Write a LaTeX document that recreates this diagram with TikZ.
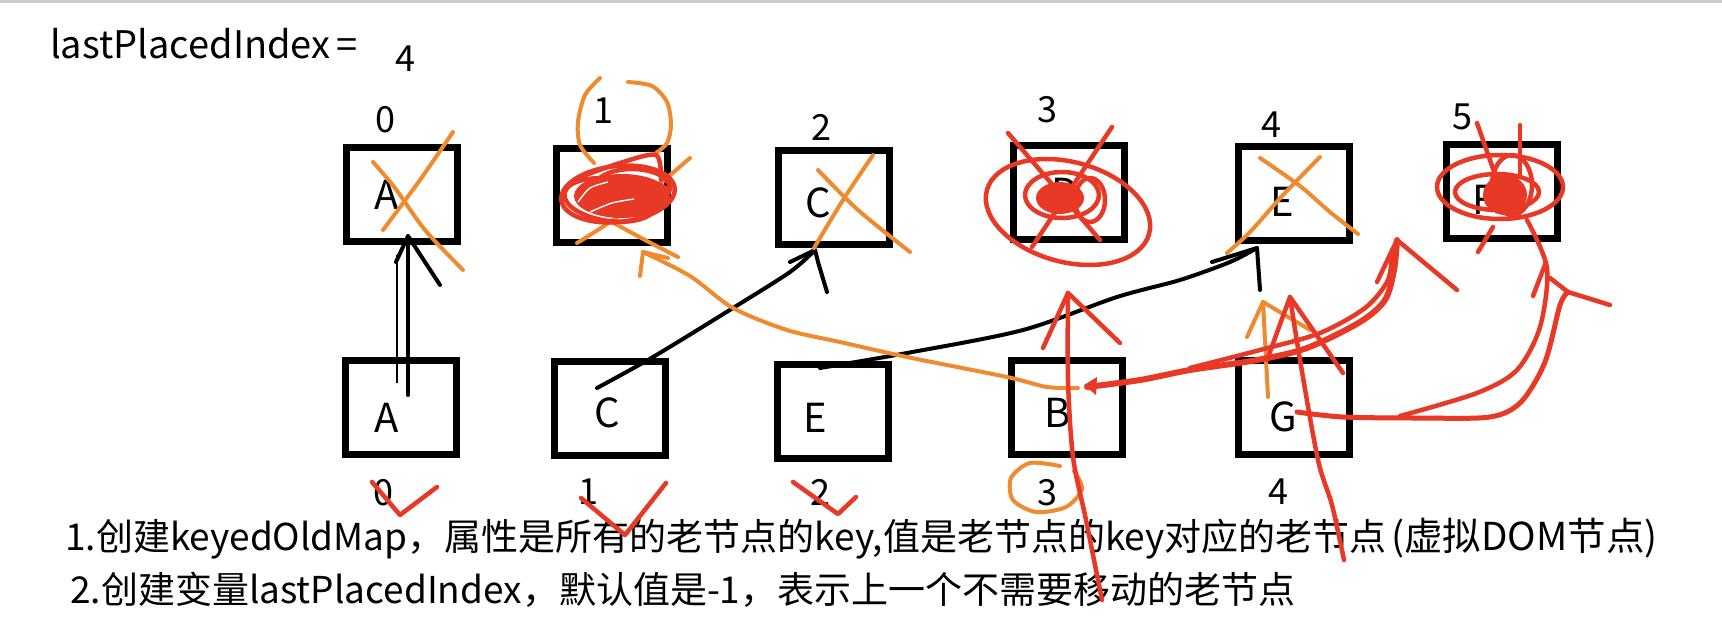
\documentclass[tikz,border=0pt]{standalone}
\usepackage{fontspec}
\setmainfont{Noto Sans CJK SC}
\usetikzlibrary{positioning, arrows.meta}

\definecolor{penorange}{RGB}{240,138,46}
\definecolor{penred}{RGB}{232,56,38}
\definecolor{barshade}{RGB}{205,205,205}

\begin{document}
\begin{tikzpicture}[
    x=1pt, y=-1pt,
    >=Latex,
    every node/.style={align=center, inner sep=0pt},
    oldbox/.style={draw=black, line width=7pt, minimum width=111pt, minimum height=94pt},
    keytext/.style={font=\fontsize{40}{44}\selectfont},
    idxtext/.style={font=\fontsize{36}{40}\selectfont},
    steptext/.style={font=\fontsize{37}{41}\selectfont},
    blackpen/.style={draw=black, line width=4pt, line cap=round, line join=round},
    orangepen/.style={draw=penorange, line width=4pt, line cap=round, line join=round},
    redpen/.style={draw=penred, line width=4.5pt, line cap=round, line join=round}
]

% =================================================
% FRAME
% =================================================

\fill[white] (0,0) rectangle (1722,622);
\useasboundingbox (0,0) rectangle (1722,622);
\fill[barshade] (0,0) rectangle (1722,3);

% Title
\node[
    anchor=base west,
    font=\fontsize{38}{42}\selectfont
] (lpi) at (50,58)
{lastPlacedIndex\hspace{6pt}=};

\node[
    idxtext,
    anchor=base
] (lpival) at (405,71)
{4};

% =================================================
% OLD NODES (top row)
% =================================================

\foreach \n/\x/\y in {
    A/402/194,
    B/612/195,
    C/834/197,
    D/1069/192,
    E/1294/193,
    F/1502/191
}{
    \node[oldbox] (old\n) at (\x,\y) {};
}

\foreach \n/\x/\y in {
    A/387/195,
    B/598/193,
    C/818/203,
    D/1065/193,
    E/1282/202,
    F/1484/200
}{
    \node[keytext] (oldkey\n) at (\x,\y) {\n};
}

\foreach \i/\x/\y in {
    0/385/120,
    1/603/111,
    2/821/127,
    3/1047/110,
    4/1271/125,
    5/1462/117
}{
    \node[idxtext] (oldidx\i) at (\x,\y) {\i};
}

% =================================================
% NEW NODES (bottom row)
% =================================================

\foreach \n/\x/\y in {
    A/401/407,
    C/610/408,
    E/833/411,
    B/1067/407,
    G/1294/407
}{
    \node[oldbox] (new\n) at (\x,\y) {};
}

\foreach \n/\x/\y in {
    A/387/418,
    C/607/413,
    E/815/418,
    B/1058/413,
    G/1283/417
}{
    \node[keytext] (newkey\n) at (\x,\y) {\n};
}

\foreach \i/\x/\y in {
    0/383/493,
    1/588/492,
    2/820/492,
    3/1047/493,
    4/1278/492
}{
    \node[idxtext] (newidx\i) at (\x,\y) {\i};
}

% Steps
\node[
    steptext,
    anchor=base west
] (step1) at (65,550)
{1.创建keyedOldMap，属性是所有的老节点的key,值是老节点的key对应的老节点};

\node[
    steptext,
    base right=4pt of step1,
    font=\fontsize{38.5}{42}\selectfont
] (step1note)
{(虚拟DOM节点)};

\node[
    steptext,
    anchor=base west
] (step2) at (70,603)
{2.创建变量lastPlacedIndex，默认值是-1，表示上一个不需要移动的老节点};

% =================================================
% BLACK PEN: reused nodes
% =================================================

\coordinate (tipA) at (408,236);
\draw[blackpen] (408,395) -- (tipA);
\draw[blackpen] (396,262) -- (tipA) -- (440,285);
\draw[black, line width=1.3pt] (397,383) -- (397,255);

\coordinate (tipC) at (815,250);
\draw[blackpen] plot[smooth] coordinates {(597,388) (653,357) (733,308) (790,272) (tipC)};
\draw[blackpen] (790,262) -- (tipC) -- (818,262) -- (827,292);

\coordinate (tipE) at (1257,248);
\draw[blackpen] plot[smooth] coordinates {(820,368) (907,353) (1023,330) (1117,297) (1180,280) (1230,262) (tipE)};
\draw[blackpen] (1212,262) -- (tipE) -- (1260,290);

% =================================================
% ORANGE PEN
% =================================================

% cross on A
\draw[orangepen] plot[smooth] coordinates {(453,132) (420,180) (383,230)};
\draw[orangepen] plot[smooth] coordinates {(373,162) (395,188) (425,230) (463,270)};

% loop round index 1
\draw[orangepen] plot[smooth] coordinates {(600,78) (585,95) (578,122) (580,145) (594,163)};
\draw[orangepen] plot[smooth] coordinates {(628,82) (652,86) (667,102) (671,125) (667,143) (656,153)};

% cross on B
\draw[orangepen] plot[smooth] coordinates {(690,158) (650,192) (610,222) (577,243)};
\draw[orangepen] plot[smooth] coordinates {(612,222) (645,240) (678,257)};

% B moves back
\coordinate (tipB) at (643,252);
\draw[orangepen] plot[smooth] coordinates {(1078,388) (1047,387) (1007,377) (907,357) (840,342) (787,330) (733,308) (690,276) (tipB)};
\draw[orangepen] (640,276) -- (tipB) -- (668,258);

% cross on C
\draw[orangepen] plot[smooth] coordinates {(818,170) (858,210) (910,252)};
\draw[orangepen] plot[smooth] coordinates {(873,155) (843,200) (814,248)};

% cross on E
\draw[orangepen] plot[smooth] coordinates {(1260,158) (1300,186) (1330,212) (1358,234)};
\draw[orangepen] plot[smooth] coordinates {(1320,157) (1283,195) (1250,232) (1227,253)};

% arrow at G
\coordinate (tipG) at (1263,302);
\draw[orangepen] (1268,397) -- (tipG);
\draw[orangepen] (1247,337) -- (tipG) -- (1310,330);

% ring round index 3
\draw[orangepen] plot[smooth] coordinates {(1060,466) (1030,463) (1011,478) (1013,500) (1036,512) (1066,507) (1082,489) (1074,471)};

% =================================================
% RED PEN
% =================================================

% scribble on B
\fill[penred] (622,196) ellipse [x radius=48, y radius=22];
\draw[redpen, rotate around={6:(618,194)}] (618,194) ellipse [x radius=57, y radius=28];
\draw[redpen, rotate around={-8:(610,200)}] (610,200) ellipse [x radius=46, y radius=21];
\draw[redpen] (632,188) ellipse [x radius=38, y radius=19];
\draw[redpen] plot[smooth] coordinates {(583,176) (620,163) (656,155) (661,180)};
\draw[white, line width=1.4pt] plot[smooth] coordinates {(578,202) (590,188) (608,182)};
\draw[white, line width=1.4pt] plot[smooth] coordinates {(590,212) (612,203) (634,199)};
\draw[redpen] plot[smooth] coordinates {(640,215) (660,205) (668,190) (650,182)};

% scribble on D
\draw[redpen] (1008,133) -- (1100,240);
\draw[redpen] (1112,127) -- (1032,247);
\draw[redpen, rotate around={-15:(1068,212)}] (1068,212) ellipse [x radius=84, y radius=50];
\draw[redpen] (1062,195) ellipse [x radius=37, y radius=23];
\draw[redpen] (1090,200) ellipse [x radius=15, y radius=22];
\fill[penred] (1060,198) ellipse [x radius=24, y radius=16];

% scribble on F
\draw[redpen] (1500,187) ellipse [x radius=63, y radius=32];
\draw[redpen] (1497,192) ellipse [x radius=42, y radius=18];
\draw[redpen] (1512,185) ellipse [x radius=20, y radius=30];
\fill[penred] (1505,195) ellipse [x radius=22, y radius=20];
\draw[redpen] (1477,123) -- (1497,180);
\draw[redpen] (1520,125) -- (1520,175);
\draw[redpen] (1493,227) -- (1478,252);

% arrow through B
\coordinate (tipBold) at (1068,293);
\draw[redpen] plot[smooth] coordinates {(1102,600) (1086,520) (1073,457) (1068,380) (tipBold)};
\draw[redpen] (1043,348) -- (tipBold) -- (1120,343);

% B to the free place
\coordinate (tipF) at (1397,240);
\fill[penred] (1084,385) -- (1097,377) -- (1096,395) -- cycle;
\draw[redpen, line width=6pt] plot[smooth] coordinates {(1087,387) (1140,380) (1190,370) (1257,360) (1307,348) (1360,322) (1385,300) (1394,270) (tipF)};
\draw[redpen] plot[smooth] coordinates {(1190,368) (1260,350) (1320,333) (1365,308) (1388,280) (1392,250)};
\draw[redpen] (1377,282) -- (tipF) -- (1457,290);

% arrow through G
\coordinate (tipGold) at (1290,297);
\draw[redpen] plot[smooth] coordinates {(1344,560) (1332,505) (1318,460) (1300,360) (tipGold)};
\draw[redpen] (1267,360) -- (tipGold) -- (1343,373);

% G to F
\draw[redpen, line width=5pt] plot[smooth] coordinates {(1297,412) (1343,417) (1420,418) (1490,417) (1521,402) (1545,362) (1560,305) (1568,292)};
\draw[redpen] plot[smooth] coordinates {(1400,416) (1477,393) (1517,370) (1540,327) (1547,268) (1527,220)};
\draw[redpen] (1550,278) -- (1568,292) -- (1610,305);
\draw[redpen] (1533,296) -- (1546,262);

% ticks under kept indices
\draw[redpen] (372,482) -- (400,515) -- (437,487);
\draw[redpen] (581,498) -- (625,535) -- (666,483);
\draw[redpen] (793,482) -- (838,514) -- (856,497);

\end{tikzpicture}
\end{document}
